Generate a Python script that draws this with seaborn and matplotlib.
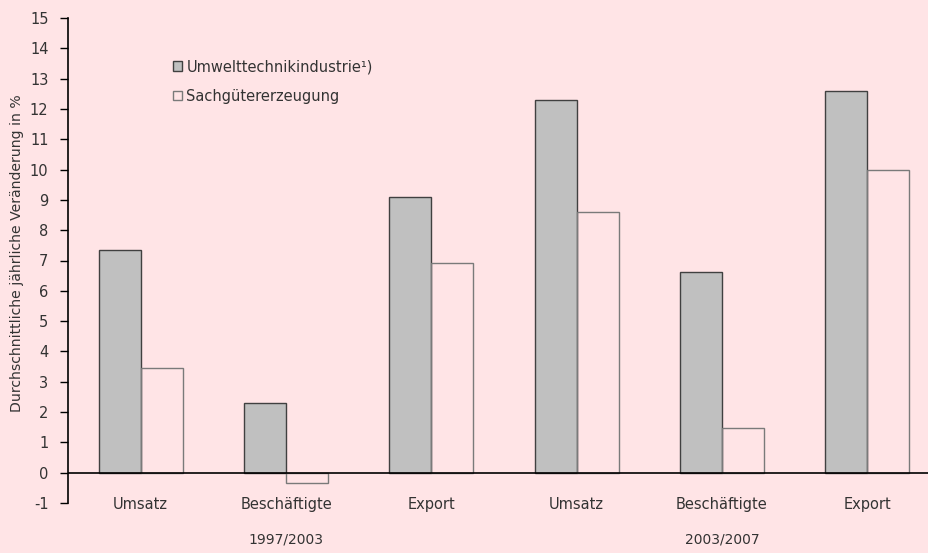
import pandas as pd
import matplotlib
matplotlib.use("Agg")
import matplotlib.pyplot as plt
import matplotlib.transforms as mtransforms
from matplotlib.patches import Patch
import seaborn as sns

# Data
periods = ["1997/2003", "2003/2007"]
measures = ["Umsatz", "Beschäftigte", "Export"]
series = ["Umwelttechnikindustrie¹)", "Sachgütererzeugung"]
umwelt = [7.35, 2.3, 9.1, 12.3, 6.62, 12.58]
sachgueter = [3.47, -0.33, 6.92, 8.6, 1.46, 9.97]

BG = "#FFE4E6"
TXT = "#333333"

rows = []
for i, (u, s) in enumerate(zip(umwelt, sachgueter)):
    key = f"{periods[i // 3]} {measures[i % 3]}"
    rows.append({"cat": key, "serie": series[0], "val": u})
    rows.append({"cat": key, "serie": series[1], "val": s})
df = pd.DataFrame(rows)
order = [f"{p} {m}" for p in periods for m in measures]

sns.set_style("white")
plt.rcParams["font.family"] = ["DejaVu Sans"]
plt.rcParams["font.size"] = 10.5
plt.rcParams["axes.unicode_minus"] = False

fig = plt.figure(figsize=(9.29, 5.53), dpi=100, facecolor=BG)
ax = fig.add_axes([68 / 929, 50 / 553, 872 / 929, 485 / 553])
ax.set_facecolor(BG)

sns.barplot(data=df, x="cat", y="val", hue="serie", order=order,
            hue_order=series, width=0.58, ax=ax, legend=False)

# style the two series
for bar in ax.containers[0]:
    bar.set_facecolor("#C0C0C0")
    bar.set_edgecolor("#404040")
    bar.set_linewidth(1.0)
for bar in ax.containers[1]:
    bar.set_facecolor("none")
    bar.set_edgecolor("#7a7a7a")
    bar.set_linewidth(1.0)

ax.set_ylim(-1, 15)
ax.set_xlim(-0.5, 5.5)
ax.set_yticks(range(-1, 16))
ax.axhline(0, color="black", linewidth=1.2, zorder=5)

for sp in ["top", "right", "bottom"]:
    ax.spines[sp].set_visible(False)
ax.spines["left"].set_color("black")
ax.spines["left"].set_linewidth(1.2)

ax.tick_params(axis="y", direction="out", length=6, width=1, color="black",
               labelcolor=TXT, labelsize=10.5, left=True, pad=8)
ax.set_xticks(range(len(order)))
ax.set_xticklabels([measures[i % 3] for i in range(len(order))])
ax.tick_params(axis="x", length=0, labelcolor=TXT, labelsize=10.5, pad=-4)
ax.set_xlabel("")
ax.set_ylabel("")

# period labels under the groups
trans = mtransforms.blended_transform_factory(ax.transData, ax.transAxes)
for j, p in enumerate(periods):
    ax.text(j * 3 + 1, -0.076, p, transform=trans, ha="center", va="center",
            color=TXT, fontsize=10)

fig.text(17 / 929, 1 - 253 / 553, "Durchschnittliche jährliche Veränderung in %",
         rotation=90, ha="center", va="center", color=TXT, fontsize=10.1)

handles = [Patch(facecolor="#C0C0C0", edgecolor="#404040", label=series[0]),
           Patch(facecolor="none", edgecolor="#7a7a7a", label=series[1])]
fig.legend(handles=handles, loc="upper left",
           bbox_to_anchor=(160 / 929, 1 - 46 / 553), frameon=False,
           handlelength=0.6, handleheight=0.6, handletextpad=0.3,
           labelspacing=1.0, fontsize=10.5, labelcolor=TXT)

fig.savefig("out.png", dpi=100, facecolor=BG)
